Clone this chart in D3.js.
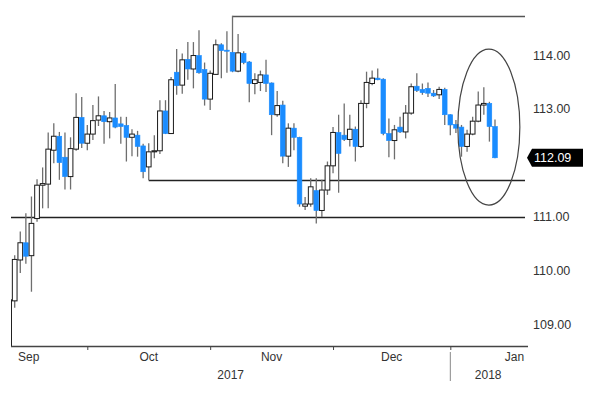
<!DOCTYPE html>
<html>
<head>
<meta charset="utf-8">
<title>USD/JPY daily candles</title>
<style>
  body { margin: 0; background: #fff; }
  text { font-family: "Liberation Sans Narrow", "Arial Narrow", sans-serif; }
</style>
</head>
<body>
<div id="chart"></div>
<script src="https://cdn.jsdelivr.net/npm/d3@7/dist/d3.min.js"></script>
<script>

// daily candles, Sep 11 2017 .. Jan 10 2018 (first one is cut by the left edge)
var open = [108.30,
  109.43, 110.19, 110.51, 110.27, 110.96, 111.58, 111.60, 112.23, 112.49, 112.10,
  111.74, 112.25, 112.84, 112.36, 112.53, 112.79, 112.87, 112.76, 112.83, 112.72,
  112.69, 112.47, 112.51, 112.31, 111.92, 112.20, 112.22, 112.96, 112.54, 113.68,
  113.44, 113.92, 113.74, 113.99, 113.73, 113.18, 113.64, 114.19, 114.09, 114.05,
  113.70, 114.03, 113.87, 113.47, 113.49, 113.63, 113.48, 112.89, 113.07, 112.12,
  112.64, 112.47, 111.19, 111.23, 111.48, 111.11, 111.49, 111.94, 112.56, 112.51,
  112.43, 112.62, 112.30, 113.10, 113.47, 113.57, 113.55, 112.54, 112.41, 112.66,
  112.57, 112.92, 113.42, 113.36, 113.38, 113.29, 113.26, 113.36, 112.89, 112.71,
  112.66, 112.30, 112.53, 112.77, 113.07, 113.10, 112.67];
var high = [109.50,
  110.28, 110.72, 111.06, 111.37, 111.69, 111.91, 112.56, 112.73, 112.57, 112.56,
  112.47, 113.29, 113.22, 112.70, 113.07, 113.23, 112.96, 112.94, 113.46, 112.85,
  112.85, 112.62, 112.59, 112.35, 112.36, 112.51, 113.16, 113.16, 113.59, 114.11,
  114.03, 114.24, 114.24, 114.46, 113.86, 113.71, 114.29, 114.22, 114.44, 114.73,
  114.39, 114.07, 113.89, 113.66, 113.71, 113.91, 113.49, 113.33, 113.15, 112.73,
  112.73, 112.48, 111.36, 111.71, 111.71, 111.68, 112.02, 112.66, 112.89, 113.10,
  112.89, 112.67, 113.16, 113.69, 113.71, 113.75, 113.57, 112.82, 112.70, 112.85,
  113.07, 113.47, 113.66, 113.47, 113.49, 113.35, 113.41, 113.39, 112.90, 112.79,
  112.70, 112.61, 112.85, 113.32, 113.40, 113.13, 112.80];
var low = [107.30,
  109.30, 109.95, 110.12, 109.60, 110.90, 111.15, 111.15, 111.99, 111.68, 111.50,
  111.50, 112.22, 112.27, 112.23, 112.42, 112.68, 112.35, 112.45, 112.64, 112.35,
  112.02, 112.12, 112.11, 111.71, 111.67, 112.08, 112.16, 112.53, 112.53, 113.26,
  113.28, 113.54, 113.38, 113.65, 113.06, 112.98, 113.63, 113.57, 113.67, 113.68,
  113.68, 113.83, 113.12, 113.27, 113.33, 113.31, 112.51, 112.85, 111.99, 111.92,
  112.23, 111.18, 111.12, 111.18, 110.87, 110.99, 111.40, 111.80, 111.44, 112.40,
  112.30, 112.02, 112.27, 113.01, 113.44, 113.53, 112.51, 112.10, 112.06, 112.55,
  112.45, 112.89, 113.31, 113.26, 113.22, 113.22, 113.18, 112.70, 112.51, 112.55,
  112.11, 112.20, 112.51, 112.75, 112.89, 112.39, 112.08];
var close = [109.45,
  110.20, 110.51, 110.26, 110.87, 111.58, 111.61, 112.25, 112.49, 112.00, 111.74,
  112.26, 112.84, 112.36, 112.53, 112.78, 112.87, 112.76, 112.83, 112.66, 112.67,
  112.47, 112.53, 112.30, 111.83, 112.20, 112.22, 112.96, 112.54, 113.54, 113.43,
  113.91, 113.74, 113.99, 113.67, 113.18, 113.66, 114.19, 114.08, 114.07, 113.70,
  114.04, 113.86, 113.47, 113.54, 113.63, 113.47, 112.89, 113.06, 112.12, 112.64,
  112.47, 111.23, 111.23, 111.55, 111.11, 111.49, 111.94, 112.56, 112.17, 112.43,
  112.62, 112.30, 113.10, 113.49, 113.57, 113.54, 112.54, 112.41, 112.61, 112.57,
  112.92, 113.41, 113.34, 113.30, 113.29, 113.24, 113.36, 112.89, 112.70, 112.64,
  112.30, 112.53, 112.77, 113.07, 113.10, 112.67, 112.09];

// index of the last trading day of each month (Aug .. Jan)
var monthEnds = [-7, 14, 36, 58, 79, 102];
var monthLabels = ["Sep", "Oct", "Nov", "Dec", "Jan"];
var yearLabels = ["2017", "2018"];
// 112.00 sits under the last-price tag, so it is not shown
var yTicks = [109, 110, 111, 113, 114];

// horizontal levels: value and the candle they start from (null = left edge)
var levelValues = [114.73, 111.67, 110.98];
var levelFrom = [40, 25, null];

var width = 600, height = 395;
var left = 11, right = 526, bottom = 346;

var svg = d3.select("#chart").append("svg")
  .attr("width", width)
  .attr("height", height);

var x = d3.scaleLinear().domain([1, 87]).range([14.7, 495]);
var y = d3.scaleLinear().domain([109, 114]).range([324, 55]);

var bodyW = 4.7;

svg.append("clipPath").attr("id", "plot")
  .append("rect")
  .attr("x", left).attr("y", 0)
  .attr("width", right - left).attr("height", bottom);

// level lines
levelValues.forEach(function(v, i) {
  var x0 = levelFrom[i] === null ? left : x(levelFrom[i]);
  svg.append("line")
    .attr("x1", x0).attr("x2", right - 1)
    .attr("y1", Math.round(y(v)) + 0.5).attr("y2", Math.round(y(v)) + 0.5)
    .attr("stroke", i === 0 ? "#555" : "#222")
    .attr("stroke-width", i === 0 ? 1.6 : 1.3);
});

var data = open.map(function(o, i) {
  return {i: i, o: o, h: high[i], l: low[i], c: close[i]};
});

var g = svg.append("g").attr("clip-path", "url(#plot)");

g.selectAll("line.wick")
  .data(data)
  .enter().append("line")
  .attr("class", "wick")
  .attr("x1", function(d) { return x(d.i); })
  .attr("x2", function(d) { return x(d.i); })
  .attr("y1", function(d) { return y(d.h); })
  .attr("y2", function(d) { return y(d.l); })
  .attr("stroke", "#6e6e6e")
  .attr("stroke-width", 1.3);

g.selectAll("rect.body")
  .data(data)
  .enter().append("rect")
  .attr("class", "body")
  .attr("x", function(d) { return x(d.i) - bodyW / 2; })
  .attr("width", bodyW)
  .attr("y", function(d) { return y(Math.max(d.o, d.c)); })
  .attr("height", function(d) { return Math.max(1, Math.abs(y(d.o) - y(d.c))); })
  .attr("fill", function(d) { return d.c >= d.o ? "#fff" : "#1a8cff"; })
  .attr("stroke", function(d) { return d.c >= d.o ? "#1a1a1a" : "#1a8cff"; })
  .attr("stroke-width", function(d) { return d.c >= d.o ? 1 : 0.6; });

// circled area around the last candles
svg.append("ellipse")
  .attr("cx", x(85.9))
  .attr("cy", y(112.66))
  .attr("rx", x(5.55) - x(0))
  .attr("ry", y(111.21) - y(112.66))
  .attr("fill", "none")
  .attr("stroke", "#444")
  .attr("stroke-width", 1.2);

// right axis
var yAxis = svg.append("g")
  .attr("transform", "translate(532,0)")
  .call(d3.axisRight(y).tickValues(yTicks).tickSize(0).tickFormat(d3.format(".2f")));
yAxis.select(".domain").remove();
yAxis.selectAll("text")
  .attr("x", 1)
  .attr("font-family", "Liberation Sans Narrow, Arial Narrow, sans-serif")
  .attr("font-size", 12.5)
  .attr("fill", "#333");

// last price tag
var last = close[close.length - 1];
var ly = y(last);
svg.append("path")
  .attr("d", "M527," + ly + "L532," + (ly - 9) + "L583," + (ly - 9) + "L583," + (ly + 9) + "L532," + (ly + 9) + "Z")
  .attr("fill", "#000");
svg.append("text")
  .attr("x", 534).attr("y", ly + 4.5)
  .attr("font-size", 12.5)
  .attr("fill", "#fff")
  .text(d3.format(".2f")(last));

// bottom axis
svg.append("line")
  .attr("x1", left).attr("x2", right + 2)
  .attr("y1", bottom + 0.5).attr("y2", bottom + 0.5)
  .attr("stroke", "#444").attr("stroke-width", 1.4);

var xAxis = svg.append("g")
  .attr("transform", "translate(0," + (bottom + 1) + ")")
  .call(d3.axisBottom(x).tickValues(monthEnds.slice(1, 5)).tickSize(3).tickFormat(""));
xAxis.select(".domain").remove();
xAxis.selectAll("line").attr("stroke", "#444");

svg.selectAll("text.month")
  .data(monthLabels)
  .enter().append("text")
  .attr("class", "month")
  .attr("x", function(d, i) { return (x(monthEnds[i]) + x(monthEnds[i + 1])) / 2; })
  .attr("y", 361)
  .attr("text-anchor", "middle")
  .attr("font-size", 12)
  .attr("fill", "#333")
  .text(function(d) { return d; });

var yearSplit = x(monthEnds[4]);
svg.append("line")
  .attr("x1", yearSplit).attr("x2", yearSplit)
  .attr("y1", 352).attr("y2", 381)
  .attr("stroke", "#888").attr("stroke-width", 1);

svg.selectAll("text.year")
  .data(yearLabels)
  .enter().append("text")
  .attr("class", "year")
  .attr("x", function(d, i) { return i === 0 ? (left + yearSplit) / 2 : (yearSplit + right) / 2; })
  .attr("y", 379)
  .attr("text-anchor", "middle")
  .attr("font-size", 12)
  .attr("fill", "#333")
  .text(function(d) { return d; });

</script>
</body>
</html>
